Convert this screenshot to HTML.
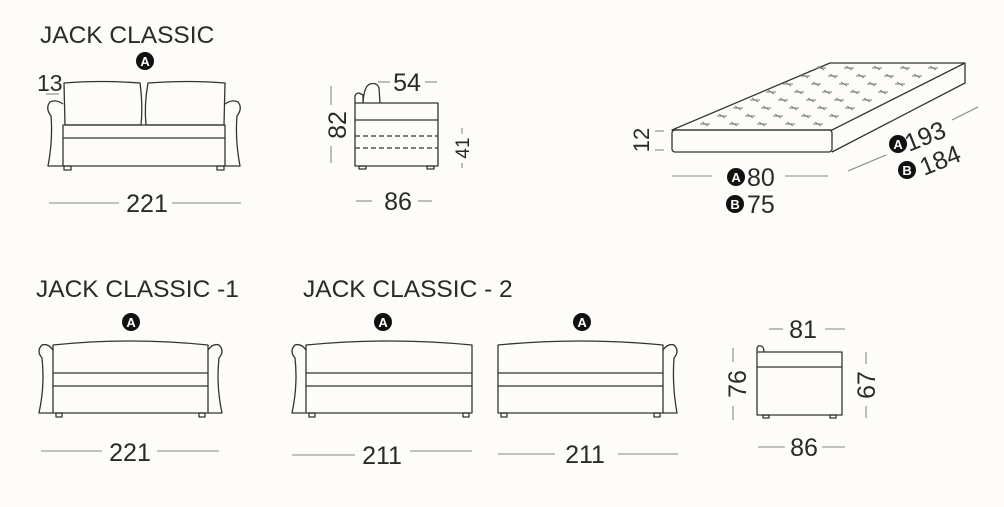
<!DOCTYPE html>
<html><head><meta charset="utf-8"><style>
html,body{margin:0;padding:0;background:#fdfcf8;}
svg{display:block}
text{font-family:"Liberation Sans",sans-serif;fill:#2a2a2a}
.s{fill:none;stroke:#333;stroke-width:1.3;stroke-linejoin:round}
.d{stroke:#888;stroke-width:1.1}
</style></head><body>
<svg width="1004" height="507" viewBox="0 0 1004 507">
<defs>
<g id="badgeA"><circle r="9" fill="#111"/><text y="5" text-anchor="middle" font-size="13" font-weight="bold" style="fill:#fff">A</text></g>
<g id="badgeB"><circle r="9" fill="#111"/><text y="5" text-anchor="middle" font-size="13" font-weight="bold" style="fill:#fff">B</text></g>
</defs>

<text x="40" y="43" font-size="24.5">JACK CLASSIC</text>
<text x="36" y="297" font-size="24.5">JACK CLASSIC -1</text>
<text x="303" y="297" font-size="24.5">JACK CLASSIC - 2</text>

<!-- Top sofa -->
<use href="#badgeA" x="145" y="61"/>
<text x="37" y="91" font-size="23">13</text>
<line class="d" x1="46" y1="94" x2="59" y2="94"/>
<path class="s" d="M64 83 Q100 80 140 83 Q143 105 141 125 L65 125 Z"/>
<path class="s" d="M148 83 Q190 80 225 83 L224 125 L146 125 Q144 105 148 83 Z"/>
<path class="s" d="M63 125 L225 125 L225 166 L63 166 Z M63 138 L225 138"/>
<path class="s" d="M63 104 Q56 99 50 102 Q45 108 51 116 Q53 140 48 166 L63 166"/>
<path class="s" d="M225 104 Q232 99 238 102 Q243 108 237 116 Q235 140 240 166 L225 166"/>
<rect class="s" x="64" y="166" width="7" height="4"/>
<rect class="s" x="217" y="166" width="7" height="4"/>
<line class="d" x1="49" y1="203" x2="119" y2="203"/><line class="d" x1="172" y1="203" x2="241" y2="203"/>
<text x="147" y="212" font-size="25" text-anchor="middle">221</text>

<!-- Side view top -->
<path class="s" d="M355 103 L355 96 Q356 93 359 93 L363 95 L363 103 M363 103 Q364 86 370 84 Q377 82 379 88 L380 103 M355 103 L438 103 L438 166 L355 166 Z M355 120 L438 120"/>
<path class="s" d="M355 136 L438 136 M355 148 L438 148" stroke-dasharray="5 3"/>
<rect class="s" x="359" y="166" width="7" height="3"/><rect class="s" x="427" y="166" width="7" height="3"/>
<line class="d" x1="378" y1="82" x2="390" y2="82"/><line class="d" x1="425" y1="82" x2="437" y2="82"/>
<text x="407" y="91" font-size="25" text-anchor="middle">54</text>
<line class="d" x1="331" y1="86" x2="331" y2="105"/><line class="d" x1="331" y1="146" x2="331" y2="163"/>
<text transform="translate(346,125) rotate(-90)" font-size="25" text-anchor="middle">82</text>
<line class="d" x1="462" y1="128" x2="462" y2="134"/><line class="d" x1="462" y1="163" x2="462" y2="168"/>
<text transform="translate(469,148) rotate(-90)" font-size="19" text-anchor="middle">41</text>
<line class="d" x1="356" y1="201" x2="372" y2="201"/><line class="d" x1="418" y1="201" x2="432" y2="201"/>
<text x="398" y="210" font-size="25" text-anchor="middle">86</text>

<!-- Mattress -->
<path class="s" d="M672 130 L830 63 L965 63 L832 130 Z"/>
<rect class="s" x="672" y="130" width="160" height="22" rx="3"/>
<path class="s" d="M965 63 L965 83 L832 152"/>
<g stroke="#777" stroke-width="0.9" fill="none" id="x">
<path d="M700 124h10M729 124h10M757 124h10M785 124h10M813 124h10
M717 116h10M745 116h10M773 116h10M801 116h10M829 116h10
M733 108h10M761 108h10M789 108h10M817 108h10M845 108h10
M750 100h10M778 100h10M806 100h10M834 100h10M862 100h10
M766 92h10M794 92h10M822 92h10M850 92h10M878 92h10
M783 84h10M811 84h10M839 84h10M867 84h10M895 84h10
M800 76h10M828 76h10M856 76h10M884 76h10M912 76h10
M816 68h10M844 68h10M872 68h10M900 68h10M928 68h10"/>
<path transform="translate(0,0)" d="M702 122l6 4M731 122l6 4M759 122l6 4M787 122l6 4M815 122l6 4
M719 114l6 4M747 114l6 4M775 114l6 4M803 114l6 4M831 114l6 4
M735 106l6 4M763 106l6 4M791 106l6 4M819 106l6 4M847 106l6 4
M752 98l6 4M780 98l6 4M808 98l6 4M836 98l6 4M864 98l6 4
M768 90l6 4M796 90l6 4M824 90l6 4M852 90l6 4M880 90l6 4
M785 82l6 4M813 82l6 4M841 82l6 4M869 82l6 4M897 82l6 4
M802 74l6 4M830 74l6 4M858 74l6 4M886 74l6 4M914 74l6 4
M818 66l6 4M846 66l6 4M874 66l6 4M902 66l6 4M930 66l6 4"/>
</g>
<line class="d" x1="655" y1="131" x2="664" y2="131"/><line class="d" x1="655" y1="150" x2="664" y2="150"/>
<text transform="translate(649,140) rotate(-90)" font-size="22" text-anchor="middle">12</text>
<line class="d" x1="672" y1="176" x2="712" y2="176"/><line class="d" x1="785" y1="176" x2="828" y2="176"/>
<use href="#badgeA" x="736" y="177"/><text x="747" y="186" font-size="25">80</text>
<use href="#badgeB" x="735" y="204"/><text x="747" y="213" font-size="25">75</text>
<line class="d" x1="848" y1="171" x2="886" y2="155"/><line class="d" x1="952" y1="120" x2="978" y2="107"/>
<use href="#badgeA" x="898" y="144"/>
<text transform="translate(909,152) rotate(-22)" font-size="25">193</text>
<use href="#badgeB" x="907" y="170"/>
<text transform="translate(924,176) rotate(-22)" font-size="25">184</text>

<!-- Sofa -1 -->
<use href="#badgeA" x="131" y="322"/>
<path class="s" d="M53 345 Q130 337 208 345 L208 413 L53 413 Z M53 373 L208 373 M53 386 L208 386"/>
<path class="s" d="M53 350 Q48 343 42 345 Q36 351 42 358 Q45 385 39 413 L53 413"/>
<path class="s" d="M208 350 Q213 343 219 345 Q225 351 219 358 Q216 385 222 413 L208 413"/>
<rect class="s" x="56" y="413" width="6" height="4"/><rect class="s" x="199" y="413" width="6" height="4"/>
<line class="d" x1="41" y1="451" x2="102" y2="451"/><line class="d" x1="157" y1="451" x2="219" y2="451"/>
<text x="130" y="461" font-size="25" text-anchor="middle">221</text>

<!-- Sofa -2 left -->
<use href="#badgeA" x="383" y="322"/>
<path class="s" d="M306 345 Q390 337 472 345 L472 413 L306 413 Z M306 373 L472 373 M306 386 L472 386"/>
<path class="s" d="M306 350 Q301 343 295 345 Q289 351 295 358 Q298 385 292 413 L306 413"/>
<rect class="s" x="309" y="413" width="6" height="4"/><rect class="s" x="463" y="413" width="6" height="4"/>
<line class="d" x1="292" y1="455" x2="355" y2="455"/><line class="d" x1="410" y1="451" x2="472" y2="451"/>
<text x="382" y="464" font-size="25" text-anchor="middle">211</text>

<!-- Sofa -2 right -->
<use href="#badgeA" x="582" y="322"/>
<path class="s" d="M498 345 Q580 337 663 345 L663 413 L498 413 Z M498 373 L663 373 M498 386 L663 386"/>
<path class="s" d="M663 350 Q668 343 674 345 Q680 351 674 358 Q672 385 677 413 L663 413"/>
<rect class="s" x="501" y="413" width="6" height="4"/><rect class="s" x="654" y="413" width="6" height="4"/>
<line class="d" x1="498" y1="454" x2="555" y2="454"/><line class="d" x1="618" y1="454" x2="678" y2="454"/>
<text x="585" y="463" font-size="25" text-anchor="middle">211</text>

<!-- Side view bottom -->
<path class="s" d="M757 352 L757 348 Q758 345 761 346 Q764 347 764 352 M757 352 L842 352 L842 415 L757 415 Z M757 367 L842 367"/>
<rect class="s" x="763" y="415" width="6" height="3"/><rect class="s" x="830" y="415" width="6" height="3"/>
<line class="d" x1="769" y1="329" x2="783" y2="329"/><line class="d" x1="825" y1="329" x2="845" y2="329"/>
<text x="803" y="338" font-size="25" text-anchor="middle">81</text>
<line class="d" x1="733" y1="348" x2="733" y2="362"/><line class="d" x1="733" y1="406" x2="733" y2="420"/>
<text transform="translate(746,384) rotate(-90)" font-size="25" text-anchor="middle">76</text>
<line class="d" x1="866" y1="352" x2="866" y2="364"/><line class="d" x1="866" y1="406" x2="866" y2="418"/>
<text transform="translate(875,385) rotate(-90)" font-size="25" text-anchor="middle">67</text>
<line class="d" x1="758" y1="447" x2="785" y2="447"/><line class="d" x1="822" y1="447" x2="845" y2="447"/>
<text x="804" y="456" font-size="25" text-anchor="middle">86</text>
</svg>
</body></html>
